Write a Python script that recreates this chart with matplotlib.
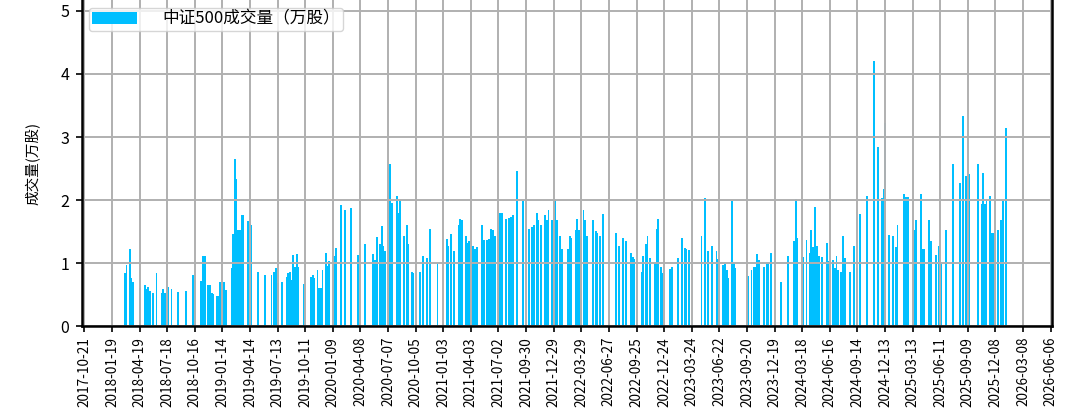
import matplotlib
matplotlib.use('Agg')
import matplotlib.pyplot as plt
import matplotlib.dates as mdates
import matplotlib.ticker as mticker
import pandas as pd

plt.rcParams['font.family'] = ['Noto Sans CJK SC', 'DejaVu Sans']
plt.rcParams['axes.unicode_minus'] = False

# 数据
dates = [
    '2018-03-02', '2018-03-07', '2018-03-18', '2018-03-23', '2018-03-28', '2018-04-20',
    '2018-05-06', '2018-05-12', '2018-05-17', '2018-05-23', '2018-06-02', '2018-06-13',
    '2018-06-30', '2018-07-05', '2018-07-10', '2018-07-21', '2018-08-01', '2018-08-23',
    '2018-09-17', '2018-10-09', '2018-10-16', '2018-11-04', '2018-11-12', '2018-11-18',
    '2018-11-29', '2018-12-04', '2018-12-10', '2018-12-15', '2018-12-26', '2018-12-31',
    '2019-01-06', '2019-01-19', '2019-01-25', '2019-02-13', '2019-02-18', '2019-02-24',
    '2019-03-01', '2019-03-06', '2019-03-12', '2019-03-17', '2019-03-23', '2019-04-08',
    '2019-04-13', '2019-04-19', '2019-05-11', '2019-06-01', '2019-06-23', '2019-07-02',
    '2019-07-07', '2019-07-15', '2019-07-26', '2019-08-11', '2019-08-16', '2019-08-22',
    '2019-08-27', '2019-09-02', '2019-09-07', '2019-09-13', '2019-09-18', '2019-10-08',
    '2019-10-29', '2019-11-04', '2019-11-09', '2019-11-20', '2019-11-25', '2019-12-01',
    '2019-12-06', '2019-12-17', '2019-12-23', '2019-12-28', '2020-01-13', '2020-01-19',
    '2020-02-04', '2020-02-17', '2020-03-08', '2020-04-01', '2020-04-23', '2020-05-20',
    '2020-05-26', '2020-05-31', '2020-06-11', '2020-06-17', '2020-06-22', '2020-06-27',
    '2020-07-13', '2020-07-19', '2020-08-04', '2020-08-10', '2020-08-15', '2020-08-29',
    '2020-09-06', '2020-09-11', '2020-09-22', '2020-09-27', '2020-10-19', '2020-10-30',
    '2020-11-11', '2020-11-21', '2020-12-15', '2021-01-15', '2021-01-20', '2021-01-28',
    '2021-02-08', '2021-02-22', '2021-02-26', '2021-03-04', '2021-03-18', '2021-03-24',
    '2021-03-29', '2021-04-11', '2021-04-16', '2021-04-24', '2021-05-10', '2021-05-16',
    '2021-05-25', '2021-06-02', '2021-06-07', '2021-06-13', '2021-06-21', '2021-07-02',
    '2021-07-07', '2021-07-13', '2021-07-27', '2021-08-04', '2021-08-12', '2021-08-18',
    '2021-08-30', '2021-09-19', '2021-10-10', '2021-10-18', '2021-10-26', '2021-11-04',
    '2021-11-09', '2021-11-17', '2021-12-01', '2021-12-06', '2021-12-12', '2021-12-23',
    '2022-01-03', '2022-01-08', '2022-01-19', '2022-01-24', '2022-02-14', '2022-02-20',
    '2022-02-25', '2022-03-11', '2022-03-16', '2022-03-21', '2022-03-28', '2022-04-05',
    '2022-04-11', '2022-04-17', '2022-05-05', '2022-05-16', '2022-05-21', '2022-05-28',
    '2022-06-08', '2022-07-19', '2022-07-30', '2022-08-11', '2022-08-22', '2022-09-07',
    '2022-09-13', '2022-09-18', '2022-10-12', '2022-10-17', '2022-10-26', '2022-10-31',
    '2022-11-08', '2022-11-24', '2022-11-30', '2022-12-05', '2022-12-14', '2022-12-18',
    '2023-01-12', '2023-01-18', '2023-02-08', '2023-02-19', '2023-03-02', '2023-03-07',
    '2023-03-15', '2023-04-25', '2023-05-06', '2023-05-17', '2023-05-28', '2023-06-13',
    '2023-06-18', '2023-07-04', '2023-07-10', '2023-07-16', '2023-07-21', '2023-08-03',
    '2023-08-09', '2023-08-12', '2023-09-24', '2023-10-05', '2023-10-13', '2023-10-19',
    '2023-10-24', '2023-10-29', '2023-11-14', '2023-11-23', '2023-11-28', '2023-12-07',
    '2024-01-08', '2024-01-31', '2024-02-21', '2024-02-27', '2024-03-03', '2024-03-21',
    '2024-04-01', '2024-04-12', '2024-04-17', '2024-04-23', '2024-04-28', '2024-05-06',
    '2024-05-13', '2024-05-21', '2024-06-06', '2024-06-11', '2024-06-27', '2024-07-03',
    '2024-07-08', '2024-07-13', '2024-07-24', '2024-07-30', '2024-08-04', '2024-08-21',
    '2024-09-03', '2024-09-12', '2024-09-23', '2024-10-15', '2024-11-08', '2024-11-19',
    '2024-12-03', '2024-12-08', '2024-12-13', '2024-12-27', '2025-01-07', '2025-01-18',
    '2025-01-23', '2025-02-13', '2025-02-19', '2025-02-25', '2025-03-17', '2025-03-24',
    '2025-04-09', '2025-04-15', '2025-04-20', '2025-05-06', '2025-05-12', '2025-05-28',
    '2025-06-08', '2025-06-13', '2025-06-29', '2025-07-23', '2025-08-14', '2025-08-25',
    '2025-09-03', '2025-09-14', '2025-10-13', '2025-10-24', '2025-10-29', '2025-11-04',
    '2025-11-09', '2025-11-20', '2025-11-27', '2025-12-03', '2025-12-17', '2025-12-25',
    '2026-01-01', '2026-01-11',
]
volume = [
    0.84, 0.98, 1.22, 0.77, 0.71, 0.61,
    0.65, 0.59, 0.62, 0.57, 0.53, 0.84,
    0.53, 0.59, 0.53, 0.62, 0.60, 0.54,
    0.57, 0.82, 0.74, 0.72, 1.12, 1.11,
    0.65, 0.66, 0.53, 0.52, 0.49, 0.49,
    0.70, 0.71, 0.58, 0.93, 1.46, 2.65,
    2.34, 1.53, 1.53, 1.77, 1.76, 1.67,
    1.62, 1.60, 0.87, 0.82, 0.82, 0.87,
    0.93, 0.69, 0.71, 0.78, 0.84, 0.87,
    0.73, 1.14, 0.95, 1.15, 0.95, 0.68,
    0.79, 0.82, 0.77, 0.89, 0.61, 0.61,
    0.89, 1.17, 0.96, 1.03, 1.12, 1.24,
    1.92, 1.85, 1.88, 1.14, 1.31, 1.15,
    1.06, 1.42, 1.30, 1.59, 1.27, 1.19,
    2.58, 1.96, 2.06, 1.79, 2.01, 1.43,
    1.61, 1.31, 0.87, 0.84, 0.86, 1.12,
    1.08, 1.54, 1.00, 1.38, 1.27, 1.46,
    1.19, 1.61, 1.70, 1.69, 1.43, 1.32,
    1.35, 1.27, 1.22, 1.26, 1.60, 1.37,
    1.37, 1.39, 1.54, 1.53, 1.43, 1.38,
    1.80, 1.80, 1.70, 1.72, 1.74, 1.76,
    2.46, 1.98, 1.54, 1.58, 1.60, 1.79,
    1.68, 1.61, 1.76, 1.69, 1.85, 1.69,
    2.02, 1.69, 1.44, 1.22, 1.23, 1.44,
    1.40, 1.53, 1.70, 1.53, 1.44, 1.84,
    1.68, 1.43, 1.69, 1.52, 1.48, 1.43,
    1.78, 1.48, 1.28, 1.40, 1.35, 1.16,
    1.10, 1.07, 0.87, 1.12, 1.31, 1.43,
    1.08, 1.00, 1.54, 1.70, 0.95, 0.84,
    0.91, 0.94, 1.08, 1.40, 1.24, 1.22,
    1.21, 1.43, 2.03, 1.19, 1.27, 1.19,
    1.07, 0.98, 0.99, 0.90, 0.77, 1.98,
    1.00, 0.93, 0.80, 0.90, 0.95, 0.94,
    1.15, 1.05, 0.95, 1.00, 1.00, 1.17,
    0.71, 1.12, 1.35, 2.02, 1.40, 1.10,
    1.37, 1.17, 1.53, 1.26, 1.90, 1.28,
    1.11, 1.10, 1.33, 1.03, 1.06, 0.93,
    1.12, 0.90, 0.86, 1.43, 1.08, 0.86,
    1.27, 0.93, 1.78, 2.06, 4.20, 2.85,
    2.04, 2.17, 3.22, 1.45, 1.44, 1.26,
    1.61, 2.10, 2.05, 2.05, 1.53, 1.68,
    2.10, 1.23, 1.23, 1.69, 1.36, 1.14,
    1.27, 0.99, 1.53, 2.58, 2.28, 3.34,
    2.39, 2.41, 2.58, 1.94, 2.43, 1.94,
    2.02, 2.07, 1.48, 1.48, 1.53, 1.68,
    1.98, 3.15,
]
tick_start = '2017-10-21'
tick_end = '2026-06-06'
label = '中证500成交量（万股）'
ylabel = '成交量(万股)'

df = pd.DataFrame({'date': pd.to_datetime(dates), 'vol': volume})

fig = plt.figure(figsize=(10.8, 4.11), dpi=100)
ax = fig.add_axes([0.0756, 0.2056, 0.8983, 0.7944])

ax.bar(df['date'], df['vol'], width=6, color='#00BFFF', linewidth=0, label=label)

# 坐标轴
ticks = pd.date_range(tick_start, tick_end, freq='90D')
ax.xaxis.set_major_locator(mticker.FixedLocator(mdates.date2num(ticks)))
ax.xaxis.set_major_formatter(mdates.DateFormatter('%Y-%m-%d'))
ax.set_xlim(pd.Timestamp('2017-10-12'), pd.Timestamp('2026-06-10'))
ax.set_ylim(0, 5.17)
ax.set_yticks([0, 1, 2, 3, 4, 5])
plt.setp(ax.get_xticklabels(), rotation=90)
ax.tick_params(axis='x', labelsize=9.8, length=4, width=1.2)
ax.tick_params(axis='y', labelsize=11.5, length=4, width=1.2, pad=5)
ax.set_ylabel(ylabel, fontsize=10.5, labelpad=14)

ax.grid(True, color='#b0b0b0', linewidth=1.4)
for s in ['left', 'right', 'bottom']:
    ax.spines[s].set_linewidth(1.8)
ax.spines['top'].set_visible(False)

ax.legend(loc='upper left', fontsize=12, handlelength=2.7, handletextpad=1.5,
          borderpad=0.2, borderaxespad=0.45, frameon=True, fancybox=True)

fig.savefig('out.png', dpi=100)
